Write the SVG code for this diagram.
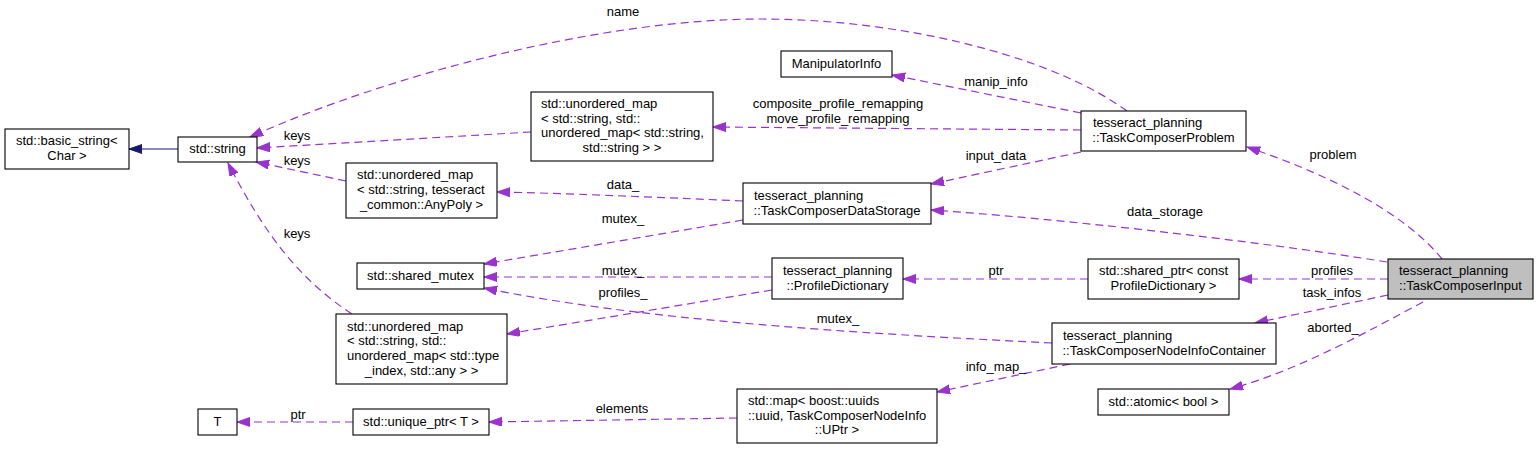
<svg xmlns="http://www.w3.org/2000/svg" width="1539" height="449" viewBox="0 0 1539 449">
<style>
text{font-family:"Liberation Sans",Arial,Helvetica,sans-serif;font-size:13px;fill:#000}
.n rect{fill:#fff;stroke:#000;stroke-width:1.1}
.n rect.cur{fill:#bfbfbf}
.m{text-anchor:middle}
.e path{fill:none;stroke:#9a32cd;stroke-width:1.2;stroke-dasharray:8,5}
.e path.inh{stroke:#191970;stroke-dasharray:none}
</style>
<defs>
<marker id="ap" markerUnits="userSpaceOnUse" markerWidth="14" markerHeight="10" refX="13" refY="4.5" orient="auto">
<path d="M0,0 L13,4.5 L0,9 z" fill="#9a32cd" stroke="#9a32cd" stroke-width="1"/>
</marker>
<marker id="ab" markerUnits="userSpaceOnUse" markerWidth="14" markerHeight="10" refX="13" refY="4.5" orient="auto">
<path d="M0,0 L13,4.5 L0,9 z" fill="#191970" stroke="#191970" stroke-width="1"/>
</marker>
</defs>
<rect width="1539" height="449" fill="#fff"/>

<g id="edges" class="e">
<path class="inh" d="M178,149 L129,149" marker-end="url(#ab)"/>
<path d="M1127,111 C1050,55 900,19 760,19 C610,19 400,70 250,137" marker-end="url(#ap)"/>
<path d="M1081,113 L892,75" marker-end="url(#ap)"/>
<path d="M1081,130 L713,127" marker-end="url(#ap)"/>
<path d="M1081,152 L931,184" marker-end="url(#ap)"/>
<path d="M531,132 L257,148" marker-end="url(#ap)"/>
<path d="M346,181 L256,162" marker-end="url(#ap)"/>
<path d="M352,314 C300,280 265,235 228,163" marker-end="url(#ap)"/>
<path d="M743,201 C650,197 560,193 497,192" marker-end="url(#ap)"/>
<path d="M743,220 L484,264" marker-end="url(#ap)"/>
<path d="M772,277 L484,277" marker-end="url(#ap)"/>
<path d="M1052,343 C850,333 640,320 484,288" marker-end="url(#ap)"/>
<path d="M772,290 L507,334" marker-end="url(#ap)"/>
<path d="M1088,279 L903,279" marker-end="url(#ap)"/>
<path d="M1070,364 L937,392" marker-end="url(#ap)"/>
<path d="M737,418 L489,422" marker-end="url(#ap)"/>
<path d="M353,422 L237,422" marker-end="url(#ap)"/>
<path d="M1442,259 C1405,213 1330,175 1247,147" marker-end="url(#ap)"/>
<path d="M1387,262 C1250,240 1050,218 931,210" marker-end="url(#ap)"/>
<path d="M1388,279 L1239,279" marker-end="url(#ap)"/>
<path d="M1388,295 L1255,323" marker-end="url(#ap)"/>
<path d="M1423,302 C1370,330 1300,370 1230,389" marker-end="url(#ap)"/>
</g>

<g id="edge-labels" class="m">
<text x="623" y="16">name</text>
<text x="996" y="86">manip_info</text>
<text x="838" y="108">composite_profile_remapping</text>
<text x="838" y="123">move_profile_remapping</text>
<text x="996" y="160">input_data</text>
<text x="623" y="189">data_</text>
<text x="623" y="223">mutex_</text>
<text x="297" y="140">keys</text>
<text x="297" y="165">keys</text>
<text x="297" y="238">keys</text>
<text x="623" y="275">mutex_</text>
<text x="623" y="297">profiles_</text>
<text x="838" y="323">mutex_</text>
<text x="996" y="275">ptr</text>
<text x="996" y="371">info_map_</text>
<text x="622" y="413">elements</text>
<text x="298" y="419">ptr</text>
<text x="1333" y="159">problem</text>
<text x="1165" y="216">data_storage</text>
<text x="1332" y="275">profiles</text>
<text x="1332" y="297">task_infos</text>
<text x="1333" y="332">aborted_</text>
</g>

<g id="n_basic_string" class="n">
<rect x="5" y="129" width="124" height="40"/>
<text x="16" y="145">std::basic_string&lt;</text>
<text class="m" x="67" y="160">Char &gt;</text>
</g>
<g id="n_string" class="n">
<rect x="178" y="137" width="79" height="25"/>
<text class="m" x="217.5" y="153">std::string</text>
</g>
<g id="n_map_anypoly" class="n">
<rect x="346" y="163" width="151" height="55"/>
<text x="357" y="179">std::unordered_map</text>
<text x="357" y="194">&lt; std::string, tesseract</text>
<text class="m" x="421.5" y="209">_common::AnyPoly &gt;</text>
</g>
<g id="n_shared_mutex" class="n">
<rect x="357" y="263" width="127" height="26"/>
<text class="m" x="420.5" y="280">std::shared_mutex</text>
</g>
<g id="n_map_typeindex" class="n">
<rect x="336" y="314" width="171" height="70"/>
<text x="347" y="331">std::unordered_map</text>
<text x="347" y="345">&lt; std::string, std::</text>
<text x="347" y="360">unordered_map&lt; std::type</text>
<text class="m" x="421.5" y="375">_index, std::any &gt; &gt;</text>
</g>
<g id="n_T" class="n">
<rect x="198" y="409" width="39" height="26"/>
<text class="m" x="217.5" y="426">T</text>
</g>
<g id="n_unique_ptr" class="n">
<rect x="353" y="409" width="136" height="26"/>
<text class="m" x="421" y="426">std::unique_ptr&lt; T &gt;</text>
</g>
<g id="n_manip" class="n">
<rect x="781" y="51" width="111" height="26"/>
<text class="m" x="836.5" y="68">ManipulatorInfo</text>
</g>
<g id="n_map_strmap" class="n">
<rect x="531" y="92" width="182" height="69"/>
<text x="541" y="108">std::unordered_map</text>
<text x="541" y="123">&lt; std::string, std::</text>
<text x="541" y="137">unordered_map&lt; std::string,</text>
<text class="m" x="622" y="152">std::string &gt; &gt;</text>
</g>
<g id="n_data_storage" class="n">
<rect x="743" y="183" width="188" height="41"/>
<text x="754" y="200">tesseract_planning</text>
<text class="m" x="837" y="215">::TaskComposerDataStorage</text>
</g>
<g id="n_profile_dict" class="n">
<rect x="772" y="258" width="131" height="41"/>
<text x="783" y="275">tesseract_planning</text>
<text class="m" x="837.5" y="290">::ProfileDictionary</text>
</g>
<g id="n_std_map" class="n">
<rect x="737" y="389" width="200" height="54"/>
<text x="748" y="405">std::map&lt; boost::uuids</text>
<text x="748" y="420">::uuid, TaskComposerNodeInfo</text>
<text class="m" x="837" y="434">::UPtr &gt;</text>
</g>
<g id="n_problem" class="n">
<rect x="1081" y="111" width="165" height="40"/>
<text x="1093" y="127">tesseract_planning</text>
<text class="m" x="1163.5" y="142">::TaskComposerProblem</text>
</g>
<g id="n_shared_ptr" class="n">
<rect x="1088" y="259" width="151" height="40"/>
<text x="1099" y="275">std::shared_ptr&lt; const</text>
<text class="m" x="1163.5" y="290">ProfileDictionary &gt;</text>
</g>
<g id="n_input" class="n">
<rect class="cur" x="1388" y="259" width="145" height="40"/>
<text x="1399" y="275">tesseract_planning</text>
<text class="m" x="1460.5" y="290">::TaskComposerInput</text>
</g>
<g id="n_nodeinfo" class="n">
<rect x="1052" y="323" width="224" height="41"/>
<text x="1063" y="340">tesseract_planning</text>
<text class="m" x="1164" y="355">::TaskComposerNodeInfoContainer</text>
</g>
<g id="n_atomic" class="n">
<rect x="1098" y="389" width="131" height="26"/>
<text class="m" x="1163.5" y="406">std::atomic&lt; bool &gt;</text>
</g>
</svg>
